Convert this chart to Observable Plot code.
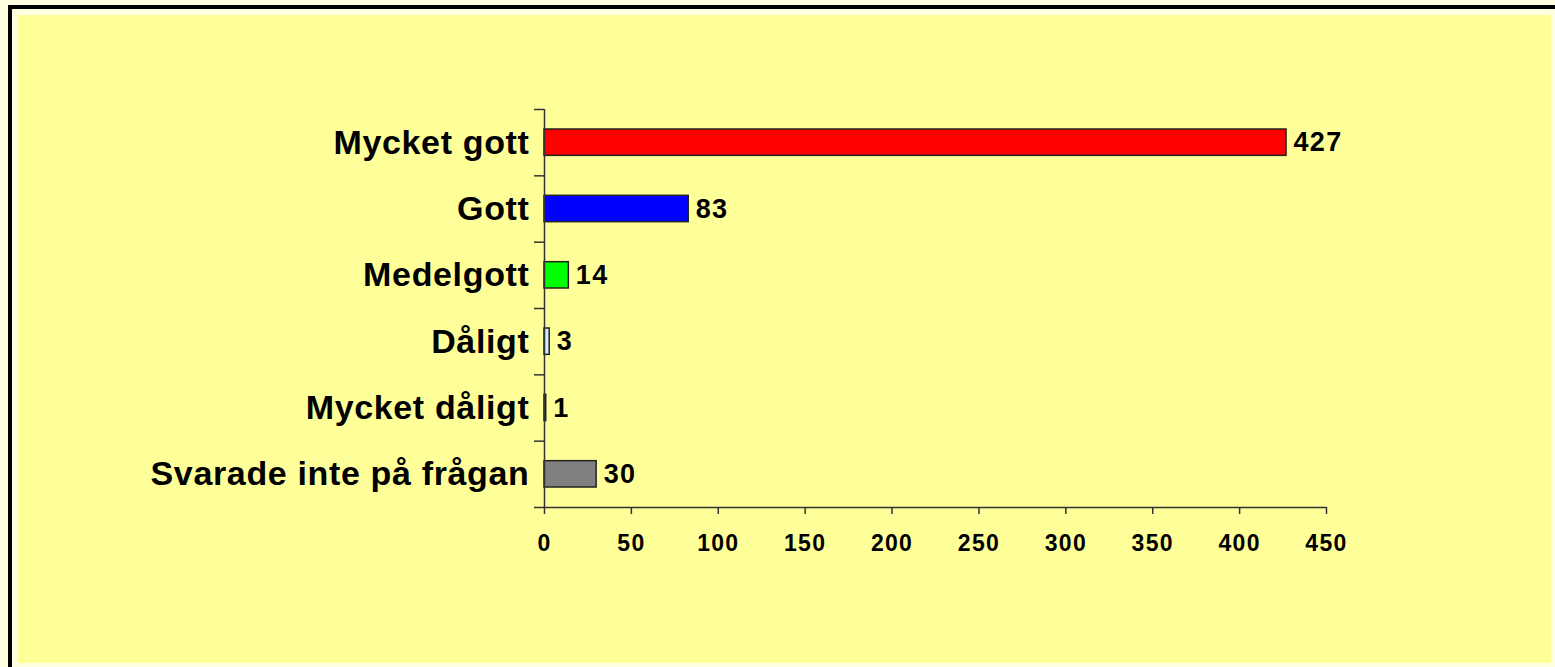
<!DOCTYPE html>
<html><head><meta charset="utf-8">
<script src="https://cdn.jsdelivr.net/npm/d3@7"></script>
<script src="https://cdn.jsdelivr.net/npm/@observablehq/plot@0.6"></script>
<style>
html,body{margin:0;padding:0;background:#FFFFE0;width:1555px;height:667px;overflow:hidden;}
#frame{position:absolute;left:8px;top:5px;width:1600px;height:700px;border-top:4px solid #000;border-left:4px solid #000;box-sizing:border-box;}
#chart{position:absolute;left:18px;top:15px;width:1533px;height:648px;background:#FFFF99;}
</style></head><body>
<div id="frame"></div><div id="chart"></div>
<script>
const categories = ["Mycket gott","Gott","Medelgott","Dåligt","Mycket dåligt","Svarade inte på frågan"];
const values = [427, 83, 14, 3, 1, 30];
const colors = ["#FF0000","#0000FF","#00FF00","#CCECFF","#800080","#808080"];
const xTicks = [0, 50, 100, 150, 200, 250, 300, 350, 400, 450];

const data = categories.map((c, i) => ({category: c, value: values[i], color: colors[i], i}));
const boundaries = d3.range(categories.length + 1);

const chart = Plot.plot({
  width: 1533,
  height: 648,
  marginLeft: 526,
  marginRight: 225,
  marginTop: 94,
  marginBottom: 156,
  style: {background: "transparent", fontFamily: "Liberation Sans, Arial, sans-serif", color: "#000", overflow: "visible"},
  x: {domain: [0, 450], axis: null},
  y: {domain: [0, categories.length], reverse: true, axis: null},
  marks: [
    Plot.rectX(data, {x1: 0, x2: "value", y1: "i", y2: d => d.i + 1, fill: "color", stroke: "#222", strokeWidth: 1.5, insetTop: 20, insetBottom: 20}),
    Plot.ruleX([0], {stroke: "#333", strokeWidth: 1.5}),
    Plot.ruleY([categories.length], {stroke: "#333", strokeWidth: 1.5}),
    Plot.axisY({ticks: boundaries, tickSize: 10, tickFormat: () => "", label: null, stroke: "#333", strokeWidth: 1.5}),
    Plot.axisX({ticks: xTicks, tickSize: 7, tickPadding: 20, label: null, fontSize: 23, fontWeight: "bold", stroke: "#333", strokeWidth: 1.5, fill: "#000"}),
    Plot.text(data, {x: 0, y: d => d.i + 0.5, text: "category", textAnchor: "end", dx: -15, fontSize: 34, fontWeight: "bold", fill: "#000"}),
    Plot.text(data, {x: "value", y: d => d.i + 0.5, text: d => String(d.value), textAnchor: "start", dx: 7, fontSize: 27, fontWeight: "bold", fill: "#000"})
  ]
});
chart.querySelectorAll('g[font-size="34"] text').forEach(t => t.style.letterSpacing = "0.65px");
chart.querySelectorAll('g[font-size="27"] text').forEach(t => t.style.letterSpacing = "1.3px");
chart.querySelectorAll('g[font-size="23"] text').forEach(t => t.style.letterSpacing = "1.3px");
document.getElementById("chart").appendChild(chart);
</script>
</body></html>
